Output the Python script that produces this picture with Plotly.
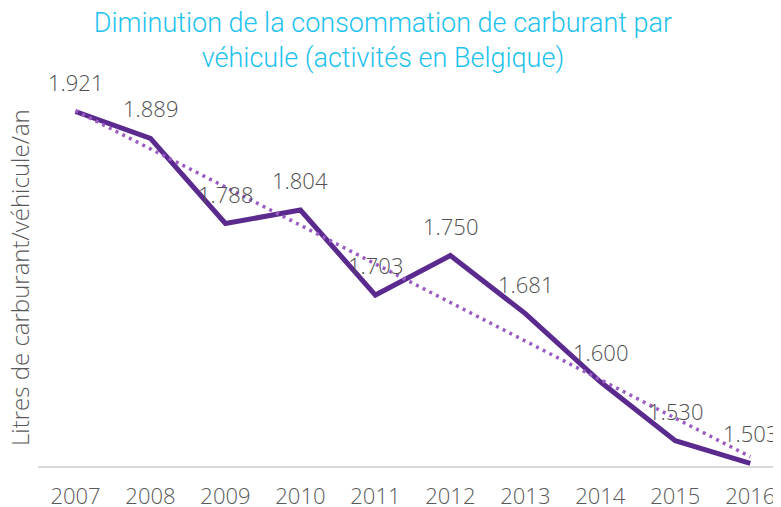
import plotly.graph_objects as go

years = ["2007", "2008", "2009", "2010", "2011", "2012", "2013", "2014", "2015", "2016"]
litres = [1921, 1889, 1788, 1804, 1703, 1750, 1681, 1600, 1530, 1503]
# linear trend line
trend = [1922, 1877, 1831, 1786, 1740, 1694, 1649, 1603, 1557, 1511]

title_text = "Diminution de la consommation de carburant par<br>véhicule (activités en Belgique)"
y_title = "Litres de carburant/véhicule/an"

# page body adds an 8px offset; size the figure to fit the visible window
W, H = 773, 499

fig = go.Figure()
fig.add_trace(go.Scatter(
    x=years, y=litres, mode="lines",
    line=dict(color="#5B2A8E", width=5),
    showlegend=False, hoverinfo="skip",
))
fig.add_trace(go.Scatter(
    x=years, y=trend, mode="lines",
    line=dict(color="#9B5CC4", width=3.5, dash="3px,4.5px"),
    showlegend=False, hoverinfo="skip",
))

for i, v in enumerate(litres):
    fig.add_annotation(
        x=i, y=v, text=f"{v:,}".replace(",", "."),
        showarrow=False, yshift=30,
        font=dict(family="Open Sans", size=22, color="#505050", weight=300),
    )

fig.add_annotation(
    xref="paper", yref="paper", x=-0.0242, y=0.4466,
    text=y_title, textangle=-90, showarrow=False,
    xanchor="center", yanchor="middle",
    font=dict(family="Open Sans", size=24, color="#595959", weight=300),
)

fig.update_layout(
    width=W, height=H,
    margin=dict(l=30, r=0, t=37, b=41, autoexpand=False),
    paper_bgcolor="white", plot_bgcolor="white",
    title=dict(
        text=title_text, x=375 / W, xref="container", xanchor="center",
        y=1 - 24 / H, yref="container", yanchor="top",
        font=dict(family="Roboto", size=27, color="#1DC2EE", weight=300),
    ),
    xaxis=dict(
        type="category", range=[-0.5, 9.41], automargin=False,
        showline=True, linecolor="#D9D9D9", linewidth=2,
        showgrid=False, zeroline=False,
        ticks="outside", ticklen=10, tickcolor="rgba(0,0,0,0)",
        tickfont=dict(family="Open Sans", size=22, color="#595959", weight=300),
    ),
    yaxis=dict(
        range=[1500, 2000], visible=False, showgrid=False, zeroline=False,
        automargin=False,
    ),
)

fig.write_html("out.html")
